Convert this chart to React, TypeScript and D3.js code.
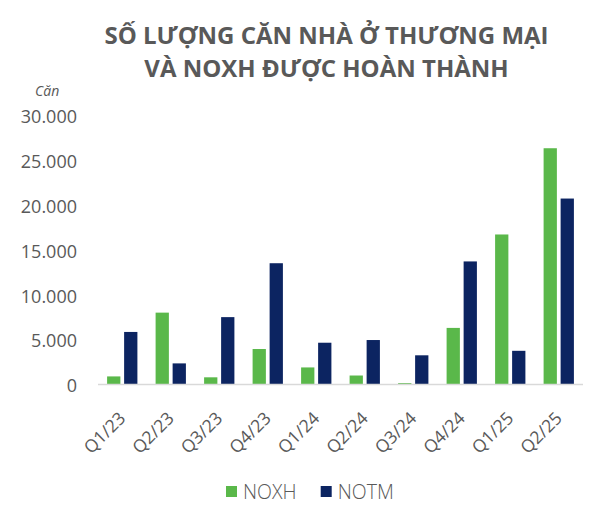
import React from "react";
import * as d3 from "d3";

const quarters = ["Q1/23", "Q2/23", "Q3/23", "Q4/23", "Q1/24", "Q2/24", "Q3/24", "Q4/24", "Q1/25", "Q2/25"];
const noxh = [900, 8000, 800, 3950, 1900, 1000, 150, 6300, 16700, 26300];
const notm = [5850, 2350, 7500, 13500, 4650, 4950, 3250, 13700, 3750, 20700];
const seriesNames = ["NOXH", "NOTM"];
const seriesColors = ["#5ab84a", "#0c2461"];
const yTicks = [0, 5000, 10000, 15000, 20000, 25000, 30000];
const titleLines = ["SỐ LƯỢNG CĂN NHÀ Ở THƯƠNG MẠI", "VÀ NOXH ĐƯỢC HOÀN THÀNH"];
const unitLabel = "Căn";

const W = 612;
const H = 517;
const FONT = "'Open Sans', 'Segoe UI', sans-serif";
const TEXT = "#595959";

const locale = d3.formatLocale({ thousands: ".", grouping: [3], decimal: ",", currency: ["", ""] });
const fmt = locale.format(",");

export default function App() {
  const x0 = d3.scaleBand<string>().domain(quarters).range([98, 583]).padding(0);
  const groupW = 30.3;
  const x1 = d3.scaleBand<string>().domain(seriesNames).range([0, groupW]).paddingInner(0.22);
  const y = d3.scaleLinear().domain([0, 30000]).range([384.5, 115]);
  const series = [noxh, notm];
  const off = (x0.bandwidth() - groupW) / 2;

  return (
    <svg width={W} height={H} style={{ position: "absolute", left: 0, top: 0, background: "#fff" }} fontFamily={FONT}>
      <rect width={W} height={H} fill="#fff" />
      {titleLines.map((t, i) => (
        <text key={t} x={326.5} y={43.5 + i * 33} textAnchor="middle" fontSize={24} fontWeight={700} fill={TEXT}>
          {t}
        </text>
      ))}
      <text x={35} y={96} fontSize={14} fontStyle="italic" fill={TEXT}>
        {unitLabel}
      </text>
      {yTicks.map((t) => (
        <text key={t} x={77} y={y(t) + 1.6} dy="0.35em" textAnchor="end" fontSize={18} fill={TEXT}>
          {fmt(t)}
        </text>
      ))}
      {quarters.map((q, qi) => (
        <g key={q} transform={`translate(${(x0(q) ?? 0) + off},0)`}>
          {series.map((s, si) => (
            <rect
              key={seriesNames[si]}
              x={x1(seriesNames[si])}
              y={y(s[qi])}
              width={x1.bandwidth()}
              height={y(0) - y(s[qi])}
              fill={seriesColors[si]}
            />
          ))}
        </g>
      ))}
      <line x1={98} x2={583} y1={y(0)} y2={y(0)} stroke="#d9d9d9" strokeWidth={1.5} />
      {quarters.map((q) => {
        const cx = (x0(q) ?? 0) + x0.bandwidth() / 2;
        return (
          <text
            key={q}
            transform={`translate(${cx},415) rotate(-45)`}
            dy="0.35em"
            textAnchor="end"
            fontSize={17.5}
            fill={TEXT}
          >
            {q}
          </text>
        );
      })}
      {seriesNames.map((n, i) => {
        const lx = [226, 320.7][i];
        return (
          <g key={n}>
            <rect x={lx} y={486} width={11} height={11} fill={seriesColors[i]} />
            <text x={lx + 17} y={498.5} fontSize={19.5} fontWeight={300} fill={TEXT}>
              {n}
            </text>
          </g>
        );
      })}
    </svg>
  );
}
